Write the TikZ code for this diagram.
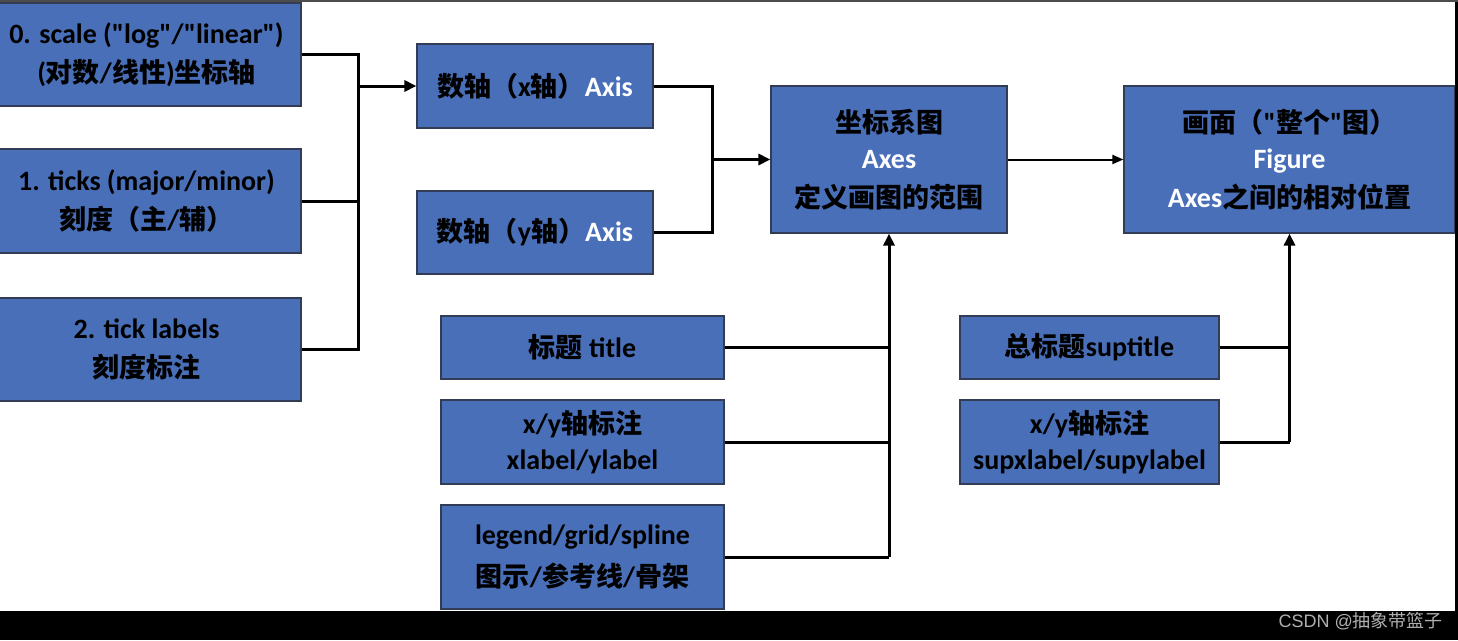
\documentclass[tikz,border=0pt]{standalone}
\usepackage{fontspec}
\setmainfont{Carlito}[Ligatures=TeXOff]
\newfontfamily\zhf{Noto Sans CJK SC}
\newfontfamily\wmlat{Liberation Sans}
\newcommand\zh[1]{{\zhf\bfseries\fontsize{27}{39}\selectfont #1}}
\usetikzlibrary{arrows.meta}
\definecolor{boxblue}{RGB}{72,111,184}
\definecolor{boxline}{RGB}{50,60,85}
\definecolor{wmgray}{RGB}{175,175,175}
\begin{document}
\begin{tikzpicture}[x=1pt,y=-1pt,
  box/.style={draw=boxline, fill=boxblue, line width=1.2pt, inner sep=0pt, align=center,
    font=\bfseries\fontsize{28}{39}\selectfont},
  ln/.style={line width=3pt, black},
  arr/.style={line width=3pt, black, -{Triangle[length=12pt,width=11pt]}},
  tarr/.style={line width=2pt, black, -{Triangle[length=11pt,width=9pt]}}]
\useasboundingbox (0,0) rectangle (1458,640);
\fill[white] (0,0) rectangle (1458,640);
% boxes
\node[box, minimum width=309pt, minimum height=103pt] (a0) at (146.5,54.5)
  {0. scale ("log"/"linear")\\(\zh{对数}/\zh{线性})\zh{坐标轴}};
\node[box, minimum width=309pt, minimum height=104pt] (a1) at (146.5,201)
  {1. ticks (major/minor)\\\zh{刻度（主}/\zh{辅）}};
\node[box, minimum width=309pt, minimum height=103pt] (a2) at (146.5,349.5)
  {2. tick labels\\\zh{刻度标注}};
\node[box, minimum width=236pt, minimum height=84pt] (xax) at (535,86)
  {\zh{数轴（}x\zh{轴）}\textcolor{white}{Axis}};
\node[box, minimum width=236pt, minimum height=83pt] (yax) at (535,232.5)
  {\zh{数轴（}y\zh{轴）}\textcolor{white}{Axis}};
\node[box, minimum width=236pt, minimum height=147pt] (axes) at (889,159.5)
  {\zh{坐标系图}\\[-3pt]\textcolor{white}{Axes}\\\zh{定义画图的范围}};
\node[box, minimum width=331pt, minimum height=147pt] (fig) at (1289.5,159.5)
  {\zh{画面（}"\zh{整个}"\zh{图）}\\[-3pt]\textcolor{white}{Figure}\\\textcolor{white}{Axes}\zh{之间的相对位置}};
\node[box, minimum width=283pt, minimum height=63pt] (ttl) at (582.5,347.5)
  {\zh{标题} title};
\node[box, minimum width=283pt, minimum height=84pt] (xlab) at (582.5,442)
  {x/y\zh{轴标注}\\[-3pt]xlabel/ylabel};
\node[box, minimum width=283pt, minimum height=104pt] (leg) at (582.5,557)
  {legend/grid/spline\\[3pt]\zh{图示}/\zh{参考线}/\zh{骨架}};
\node[box, minimum width=259pt, minimum height=63pt] (sup) at (1089.5,347.5)
  {\zh{总标题}suptitle};
\node[box, minimum width=259pt, minimum height=84pt] (supx) at (1089.5,442)
  {x/y\zh{轴标注}\\[-3pt]supxlabel/supylabel};
% bus coordinates
\coordinate (bus1) at (358,0);
\coordinate (bus2) at (712,0);
% connectors
\draw[ln] (a0.east) -- (a0.east -| bus1) -- (a2.east -| bus1) -- (a2.east);
\draw[ln] (a1.east) -- (a1.east -| bus1);
\draw[arr] (xax.west -| bus1) -- (xax.west);
\draw[ln] (xax.east) -- (xax.east -| bus2) -- (yax.east -| bus2) -- (yax.east);
\draw[arr] (axes.west -| bus2) -- (axes.west);
\draw[tarr] (axes.east) -- (fig.west);
\draw[ln] (leg.east) -- (leg.east -| axes.south);
\draw[ln] (ttl.east) -- (ttl.east -| axes.south);
\draw[ln] (xlab.east) -- (xlab.east -| axes.south);
\draw[arr] (leg.east -| axes.south) -- (axes.south);
\draw[ln] (sup.east) -- (sup.east -| fig.south);
\draw[ln] (supx.east) -- (supx.east -| fig.south);
\draw[arr] (supx.east -| fig.south) -- (fig.south);
% frame and band
\fill[black] (0,611) rectangle (1458,640);
\fill[black] (1455,0) rectangle (1458,611);
\fill[black!70] (0,0) rectangle (1458,1.5);
\node[anchor=east, inner sep=0pt, text=wmgray, font=\fontsize{18}{20}\selectfont] (wm) at (1443,621)
  {\wmlat CSDN @{\zhf 抽象带篮子}};
\end{tikzpicture}
\end{document}
